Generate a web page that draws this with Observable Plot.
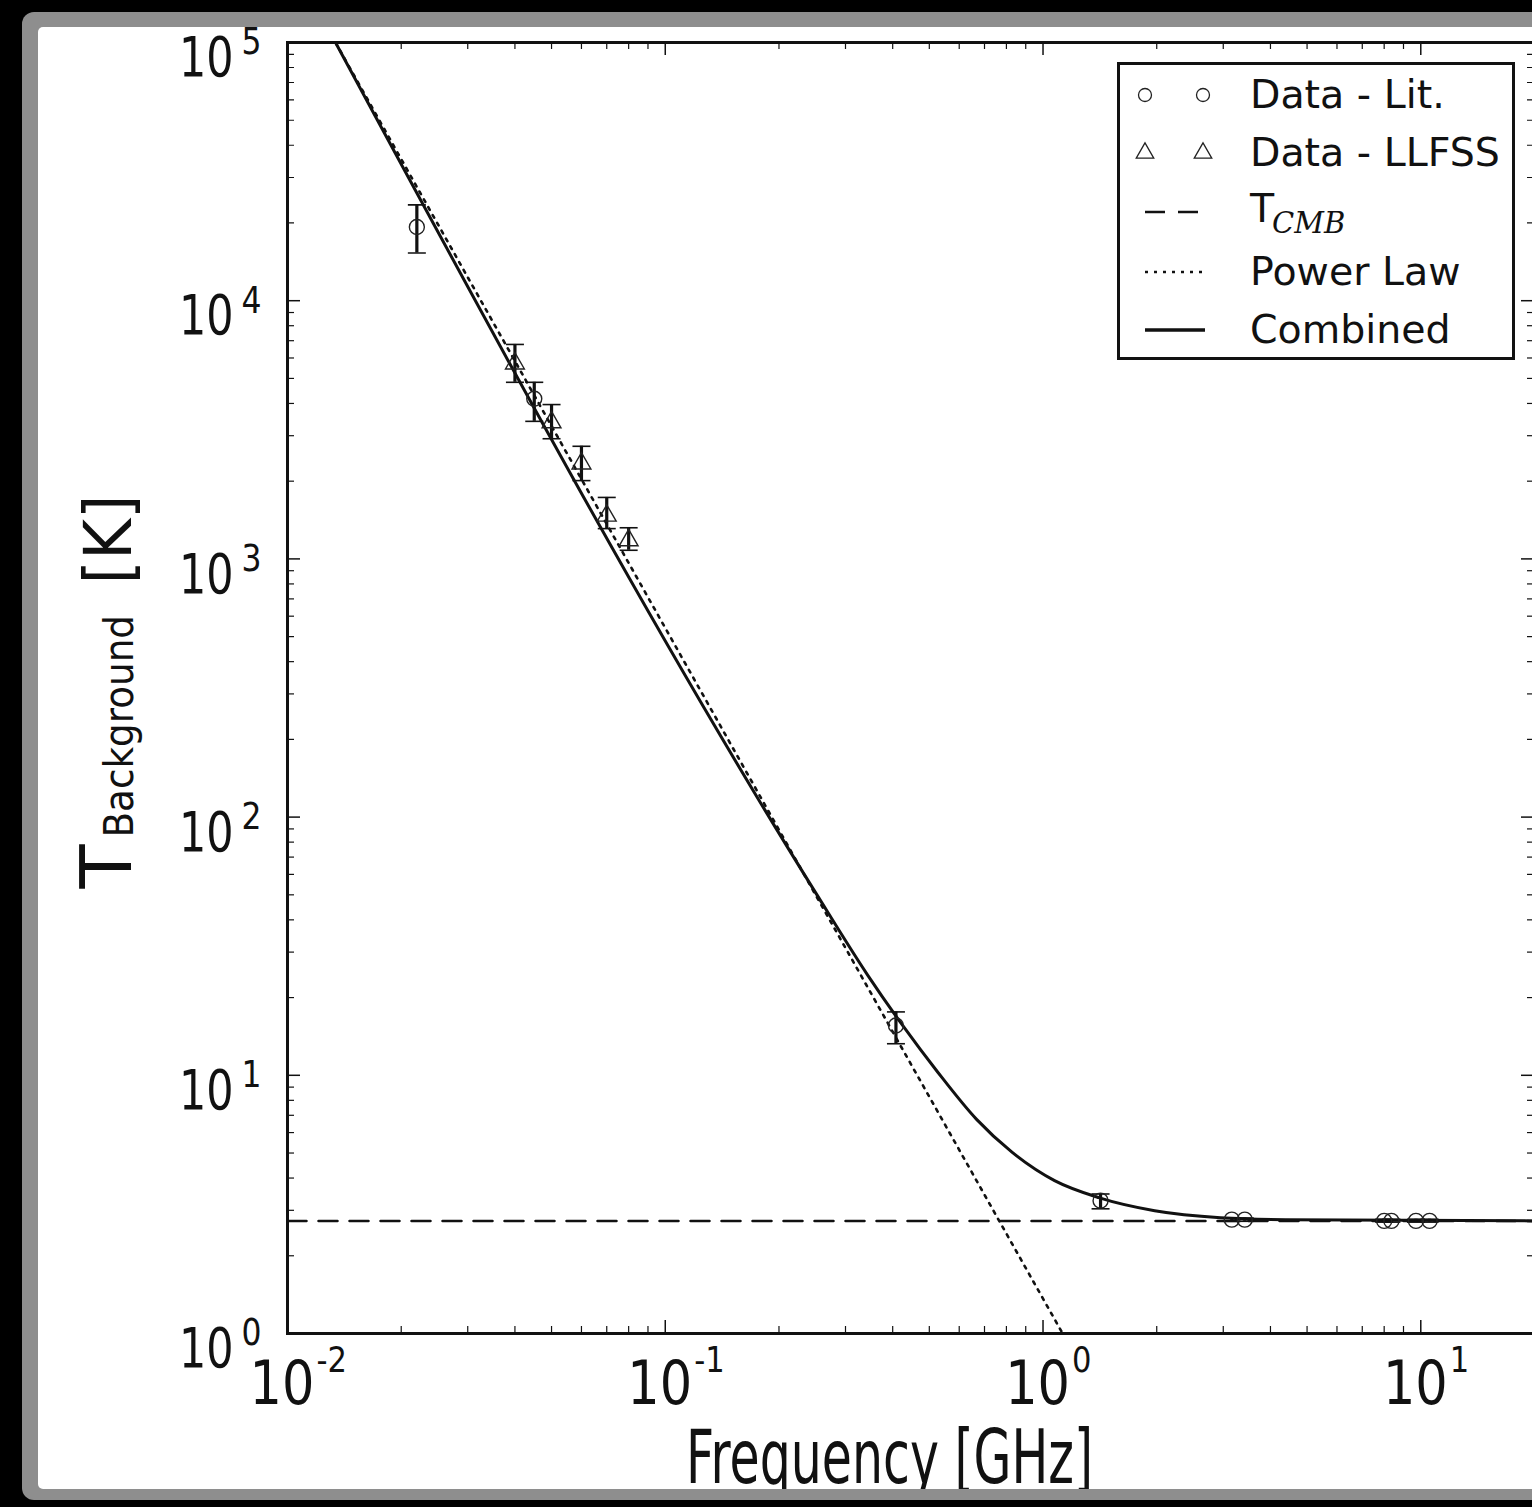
<!DOCTYPE html>
<html>
<head>
<meta charset="utf-8">
<script src="https://cdn.jsdelivr.net/npm/d3@7"></script>
<script src="https://cdn.jsdelivr.net/npm/@observablehq/plot@0.6"></script>
<style>
  html, body { margin: 0; padding: 0; background: #000; width: 1532px; height: 1507px; overflow: hidden; }
  #gray { position: absolute; left: 22px; top: 12px; width: 1600px; height: 1488px; background: #8e8e8e; border-radius: 12px; }
  #white { position: absolute; left: 16px; top: 15px; width: 1600px; height: 1462px; background: #fff; overflow: hidden; border-radius: 5px; }
  #chart { position: absolute; left: -38px; top: -27px; }
  #legend { position: absolute; left: 1117px; top: 62px; width: 392px; height: 292px; border: 3px solid #111; background: #fff; }
  #legend svg { position: absolute; left: 0; top: 0; }
</style>
</head>
<body>
<div id="gray"><div id="white"><div id="chart"></div></div></div>
<div id="legend"></div>
<script>
// ---------- data ----------
// Literature data (circles): frequency [GHz], T [K], error range
const litFreq = [0.022, 0.045, 0.408, 1.42, 3.16, 3.42, 8.0, 8.36, 9.71, 10.55];
const litT    = [19300, 4170, 15.6, 3.27, 2.76, 2.76, 2.73, 2.73, 2.73, 2.73];
const litLo   = [15300, 3410, 13.25, 3.04, 2.72, 2.72, 2.70, 2.70, 2.70, 2.70];
const litHi   = [23500, 4830, 17.6, 3.47, 2.80, 2.80, 2.77, 2.77, 2.77, 2.77];

// LLFSS data (triangles)
const llfssFreq = [0.040, 0.050, 0.060, 0.070, 0.080];
const llfssT    = [5710, 3380, 2340, 1470, 1180];
const llfssLo   = [4830, 2920, 2010, 1310, 1080];
const llfssHi   = [6770, 3960, 2730, 1730, 1320];

// T_CMB (dashed)
const cmbFreq = [0.01, 20];
const cmbT    = [2.725, 2.725];

// Power law (dotted)
const plFreq = [0.0134, 1.127];
const plT    = [100000, 1];

// Combined (solid)
const combFreq = [0.0134, 0.25, 0.343, 0.425, 0.526, 0.667, 0.826, 1.073, 1.404, 1.975, 2.95, 4.39, 20];
const combT    = [100000, 51, 24.5, 15.6, 10.3, 6.75, 5.05, 3.91, 3.36, 2.99, 2.81, 2.76, 2.73];

// Axis ticks and labels
const xMajor = [0.01, 0.1, 1, 10];
const xTickExp = ["-2", "-1", "0", "1"];
const xMinor = [0.02, 0.03, 0.04, 0.05, 0.06, 0.07, 0.08, 0.09,
                0.2, 0.3, 0.4, 0.5, 0.6, 0.7, 0.8, 0.9,
                2, 3, 4, 5, 6, 7, 8, 9, 20];
const yMajor = [1, 10, 100, 1000, 10000, 100000];
const yTickExp = ["0", "1", "2", "3", "4", "5"];
const yMinor = [2, 3, 4, 5, 6, 7, 8, 9,
                20, 30, 40, 50, 60, 70, 80, 90,
                200, 300, 400, 500, 600, 700, 800, 900,
                2000, 3000, 4000, 5000, 6000, 7000, 8000, 9000,
                20000, 30000, 40000, 50000, 60000, 70000, 80000, 90000];

const xTitle = "Frequency [GHz]";
const yTitleMain = "T";
const yTitleSub = "Background";
const yTitleUnit = "[K]";

const legendLabels = ["Data - Lit.", "Data - LLFSS", "T", "Power Law", "Combined"];
const legendSub = "CMB";

// ---------- tables ----------
const litRows = litFreq.map((f, i) => ({f, t: litT[i], lo: litLo[i], hi: litHi[i]}));
const llfssRows = llfssFreq.map((f, i) => ({f, t: llfssT[i], lo: llfssLo[i], hi: llfssHi[i]}));
const errRows = litRows.concat(llfssRows);
const cmbRows = cmbFreq.map((f, i) => ({f, t: cmbT[i]}));
const plRows = plFreq.map((f, i) => ({f, t: plT[i]}));
const combRows = combFreq.map((f, i) => ({f, t: combT[i]}));
const xTickRows = xMajor.map((v, i) => ({v, exp: xTickExp[i]}));
const yTickRows = yMajor.map((v, i) => ({v, exp: yTickExp[i]}));

// ---------- layout ----------
const W = 1540, H = 1507;
const L = 287, R = 1534, T = 42, B = 1333;
const plotW = R - L, plotH = B - T;
const majLen = 13, minLen = 7;
const ink = "#111";
const font = "DejaVu Sans";

const capSymbol = {
  draw(context, size) {
    const w = Math.sqrt(size / Math.PI);
    context.moveTo(-w, 0);
    context.lineTo(w, 0);
  }
};

const chart = Plot.plot({
  width: W, height: H,
  marginLeft: L, marginRight: W - R, marginTop: T, marginBottom: H - B,
  style: {background: "transparent", fontFamily: font, color: ink, overflow: "visible"},
  x: {type: "log", domain: [0.01, 20], axis: null},
  y: {type: "log", domain: [1, 1e5], axis: null},
  marks: [
    Plot.line(cmbRows, {x: "f", y: "t", stroke: ink, strokeWidth: 2.5, strokeDasharray: "19,12"}),
    Plot.line(plRows, {x: "f", y: "t", stroke: ink, strokeWidth: 2.6, strokeDasharray: "3,6", clip: true}),
    Plot.line(combRows, {x: "f", y: "t", stroke: ink, strokeWidth: 3, curve: "monotone-x", clip: true}),
    Plot.ruleX(errRows, {x: "f", y1: "lo", y2: "hi", stroke: ink, strokeWidth: 3.2}),
    Plot.dot(errRows, {x: "f", y: "lo", symbol: capSymbol, r: 9, stroke: ink, strokeWidth: 1.6, fill: "none"}),
    Plot.dot(errRows, {x: "f", y: "hi", symbol: capSymbol, r: 9, stroke: ink, strokeWidth: 1.6, fill: "none"}),
    Plot.dot(litRows, {x: "f", y: "t", r: 7.5, stroke: "#222", strokeWidth: 1.4, fill: "none"}),
    Plot.dot(llfssRows, {x: "f", y: "t", symbol: "triangle", r: 7, stroke: "#222", strokeWidth: 1.4, fill: "none"}),
    // ticks (inward, on all four sides)
    Plot.tickX(xMajor, {x: d => d, insetTop: plotH - majLen, stroke: ink, strokeWidth: 1.5}),
    Plot.tickX(xMinor, {x: d => d, insetTop: plotH - minLen, stroke: ink, strokeWidth: 1.2}),
    Plot.tickX(xMajor, {x: d => d, insetBottom: plotH - majLen, stroke: ink, strokeWidth: 1.5}),
    Plot.tickX(xMinor, {x: d => d, insetBottom: plotH - minLen, stroke: ink, strokeWidth: 1.2}),
    Plot.tickY(yMajor, {y: d => d, insetRight: plotW - majLen, stroke: ink, strokeWidth: 1.5}),
    Plot.tickY(yMinor, {y: d => d, insetRight: plotW - minLen, stroke: ink, strokeWidth: 1.2}),
    Plot.tickY(yMajor, {y: d => d, insetLeft: plotW - majLen, stroke: ink, strokeWidth: 1.5}),
    Plot.tickY(yMinor, {y: d => d, insetLeft: plotW - minLen, stroke: ink, strokeWidth: 1.2}),
    Plot.frame({stroke: ink, strokeWidth: 3}),
    // tick labels
    Plot.text(xTickRows, {x: "v", text: () => "10", frameAnchor: "bottom", textAnchor: "end", lineAnchor: "bottom",
      dx: 27, dy: 70, fontSize: 60, fill: ink, ariaDescription: "xtick-base"}),
    Plot.text(xTickRows, {x: "v", text: "exp", frameAnchor: "bottom", textAnchor: "start", lineAnchor: "bottom",
      dx: 29, dy: 38, fontSize: 36, fill: ink, ariaDescription: "xtick-exp"}),
    Plot.text(yTickRows, {y: "v", text: () => "10", frameAnchor: "left", textAnchor: "end", lineAnchor: "middle",
      dx: -54, dy: 16, fontSize: 55, fill: ink, ariaDescription: "ytick-base"}),
    Plot.text(yTickRows, {y: "v", text: "exp", frameAnchor: "left", textAnchor: "start", lineAnchor: "middle",
      dx: -46, dy: 0, fontSize: 37, fill: ink, ariaDescription: "ytick-exp"}),
    // axis titles
    Plot.text([xTitle], {text: d => d, frameAnchor: "bottom", textAnchor: "middle", lineAnchor: "bottom",
      dx: 889 - (L + R) / 2, dy: 1482 - B, fontSize: 75, fill: ink, ariaDescription: "xtitle"}),
    Plot.text([yTitleMain], {text: d => d, frameAnchor: "top-left", rotate: -90, textAnchor: "start", lineAnchor: "bottom",
      dx: 130 - L, dy: 888 - T, fontSize: 72, fill: ink, ariaDescription: "ytitle-main"}),
    Plot.text([yTitleSub], {text: d => d, frameAnchor: "top-left", rotate: -90, textAnchor: "start", lineAnchor: "bottom",
      dx: 132 - L, dy: 837 - T, fontSize: 41, fill: ink, ariaDescription: "ytitle-sub"}),
    Plot.text([yTitleUnit], {text: d => d, frameAnchor: "top-left", rotate: -90, textAnchor: "start", lineAnchor: "bottom",
      dx: 130 - L, dy: 584 - T, fontSize: 66, fill: ink, ariaDescription: "ytitle-unit"})
  ]
});

function squeeze(svg, label, sx) {
  svg.querySelectorAll(`g[aria-description="${label}"] text`).forEach(t => {
    t.setAttribute("transform", (t.getAttribute("transform") || "") + ` scale(${sx},1)`);
  });
}
squeeze(chart, "xtick-base", 0.85);
squeeze(chart, "xtick-exp", 0.85);
squeeze(chart, "ytick-base", 0.78);
squeeze(chart, "ytick-exp", 0.85);
squeeze(chart, "xtitle", 0.653);
squeeze(chart, "ytitle-sub", 0.91);
squeeze(chart, "ytitle-unit", 0.95);

document.getElementById("chart").appendChild(chart);

// ---------- legend (inside the axes, top right) ----------
const lg = d3.select("#legend").append("svg").attr("width", 392).attr("height", 292)
  .style("font-family", font);
const rowY = [30, 88, 147, 207, 265];
const sx0 = 25, sx1 = 83;
[sx0, sx1].forEach(x => lg.append("circle").attr("cx", x).attr("cy", rowY[0]).attr("r", 6.5)
  .attr("fill", "none").attr("stroke", "#222").attr("stroke-width", 1.3));
[sx0, sx1].forEach(x => lg.append("path").attr("d", d3.symbol(d3.symbolTriangle, Math.PI * 6.5 * 6.5)())
  .attr("transform", `translate(${x},${rowY[1]})`).attr("fill", "none").attr("stroke", "#222").attr("stroke-width", 1.3));
lg.append("line").attr("x1", 25).attr("x2", 78).attr("y1", rowY[2]).attr("y2", rowY[2])
  .attr("stroke", ink).attr("stroke-width", 2.5).attr("stroke-dasharray", "20,13");
lg.append("line").attr("x1", 25).attr("x2", 86).attr("y1", rowY[3]).attr("y2", rowY[3])
  .attr("stroke", ink).attr("stroke-width", 2.6).attr("stroke-dasharray", "3,6");
lg.append("line").attr("x1", 25).attr("x2", 85).attr("y1", rowY[4]).attr("y2", rowY[4])
  .attr("stroke", ink).attr("stroke-width", 3.5);
legendLabels.forEach((s, i) => {
  lg.append("text").attr("x", 130).attr("y", rowY[i] + (i === 2 ? 10 : 13)).attr("font-size", 39.5)
    .attr("fill", ink).text(s);
});
lg.append("text").attr("x", 152).attr("y", 168).attr("font-size", 29).attr("font-style", "italic")
  .attr("font-family", "DejaVu Serif").attr("fill", ink).text(legendSub);
</script>
</body>
</html>
